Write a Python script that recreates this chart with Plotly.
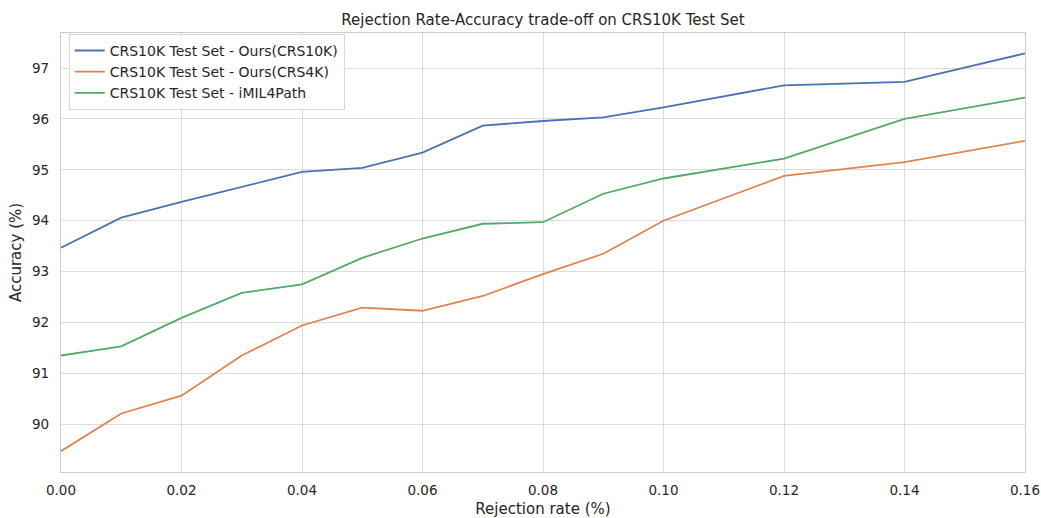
import plotly.graph_objects as go

rejection_rate = [0.00, 0.01, 0.02, 0.03, 0.04, 0.05, 0.06, 0.07, 0.08, 0.09, 0.10, 0.12, 0.14, 0.16]
acc_ours_crs10k = [93.47, 94.06, 94.37, 94.66, 94.96, 95.04, 95.34, 95.87, 95.96, 96.03, 96.23, 96.66, 96.73, 97.29]
acc_ours_crs4k = [89.47, 90.21, 90.56, 91.35, 91.94, 92.29, 92.23, 92.52, 92.95, 93.35, 94.00, 94.88, 95.15, 95.57]
acc_imil4path = [91.35, 91.53, 92.09, 92.58, 92.75, 93.27, 93.65, 93.94, 93.97, 94.53, 94.83, 95.22, 96.00, 96.42]

series_names = [
    "CRS10K Test Set - Ours(CRS10K)",
    "CRS10K Test Set - Ours(CRS4K)",
    "CRS10K Test Set - iMIL4Path",
]
colors = ["#4c72b0", "#dd8452", "#55a868"]

fig = go.Figure()
for name, ys, c in zip(series_names, [acc_ours_crs10k, acc_ours_crs4k, acc_imil4path], colors):
    fig.add_trace(go.Scatter(x=rejection_rate, y=ys, mode="lines", name=name,
                             line=dict(color=c, width=1.8)))

W, H = 1041, 518
L, T, R, B = 61, 33, 16, 46
font_family = "DejaVu Sans, sans-serif"
fig.update_layout(
    width=W, height=H,
    margin=dict(l=L, r=R, t=T, b=B, autoexpand=False),
    paper_bgcolor="white", plot_bgcolor="white",
    font=dict(family=font_family, color="#262626", size=13.5),
    title=dict(text="Rejection Rate-Accuracy trade-off on CRS10K Test Set",
               x=(L + (W - R)) / 2 / W, xanchor="center", y=1 - 20 / H, yanchor="middle",
               font=dict(size=15, color="#262626")),
    legend=dict(x=0.008, y=0.998, xanchor="left", yanchor="top",
                bgcolor="rgba(255,255,255,0.8)", bordercolor="#d9d9d9", borderwidth=1,
                font=dict(size=14, color="#262626"), tracegroupgap=0),
    showlegend=True,
)
fig.update_xaxes(
    range=[0, 0.16], tickvals=[0, 0.02, 0.04, 0.06, 0.08, 0.10, 0.12, 0.14, 0.16],
    tickformat=".2f", showgrid=True, gridcolor="#dcdcdc", gridwidth=1,
    showline=True, linecolor="#cccccc", linewidth=1.3, mirror=True,
    zeroline=False, ticks="", ticklabelstandoff=6, automargin=False,
    title=dict(text="Rejection rate (%)", font=dict(size=15), standoff=7),
    tickfont=dict(size=13.5),
)
fig.update_yaxes(
    range=[89.06, 97.69], tickvals=[90, 91, 92, 93, 94, 95, 96, 97],
    showgrid=True, gridcolor="#dcdcdc", gridwidth=1,
    showline=True, linecolor="#cccccc", linewidth=1.3, mirror=True,
    zeroline=False, ticks="", ticklabelstandoff=8, automargin=False,
    title=dict(text="Accuracy (%)", font=dict(size=15), standoff=6),
    tickfont=dict(size=13.5),
)

fig.write_html(
    "out.html",
    config={"displayModeBar": False},
    post_script="document.body.style.margin='0px';document.body.style.overflow='hidden';",
)
